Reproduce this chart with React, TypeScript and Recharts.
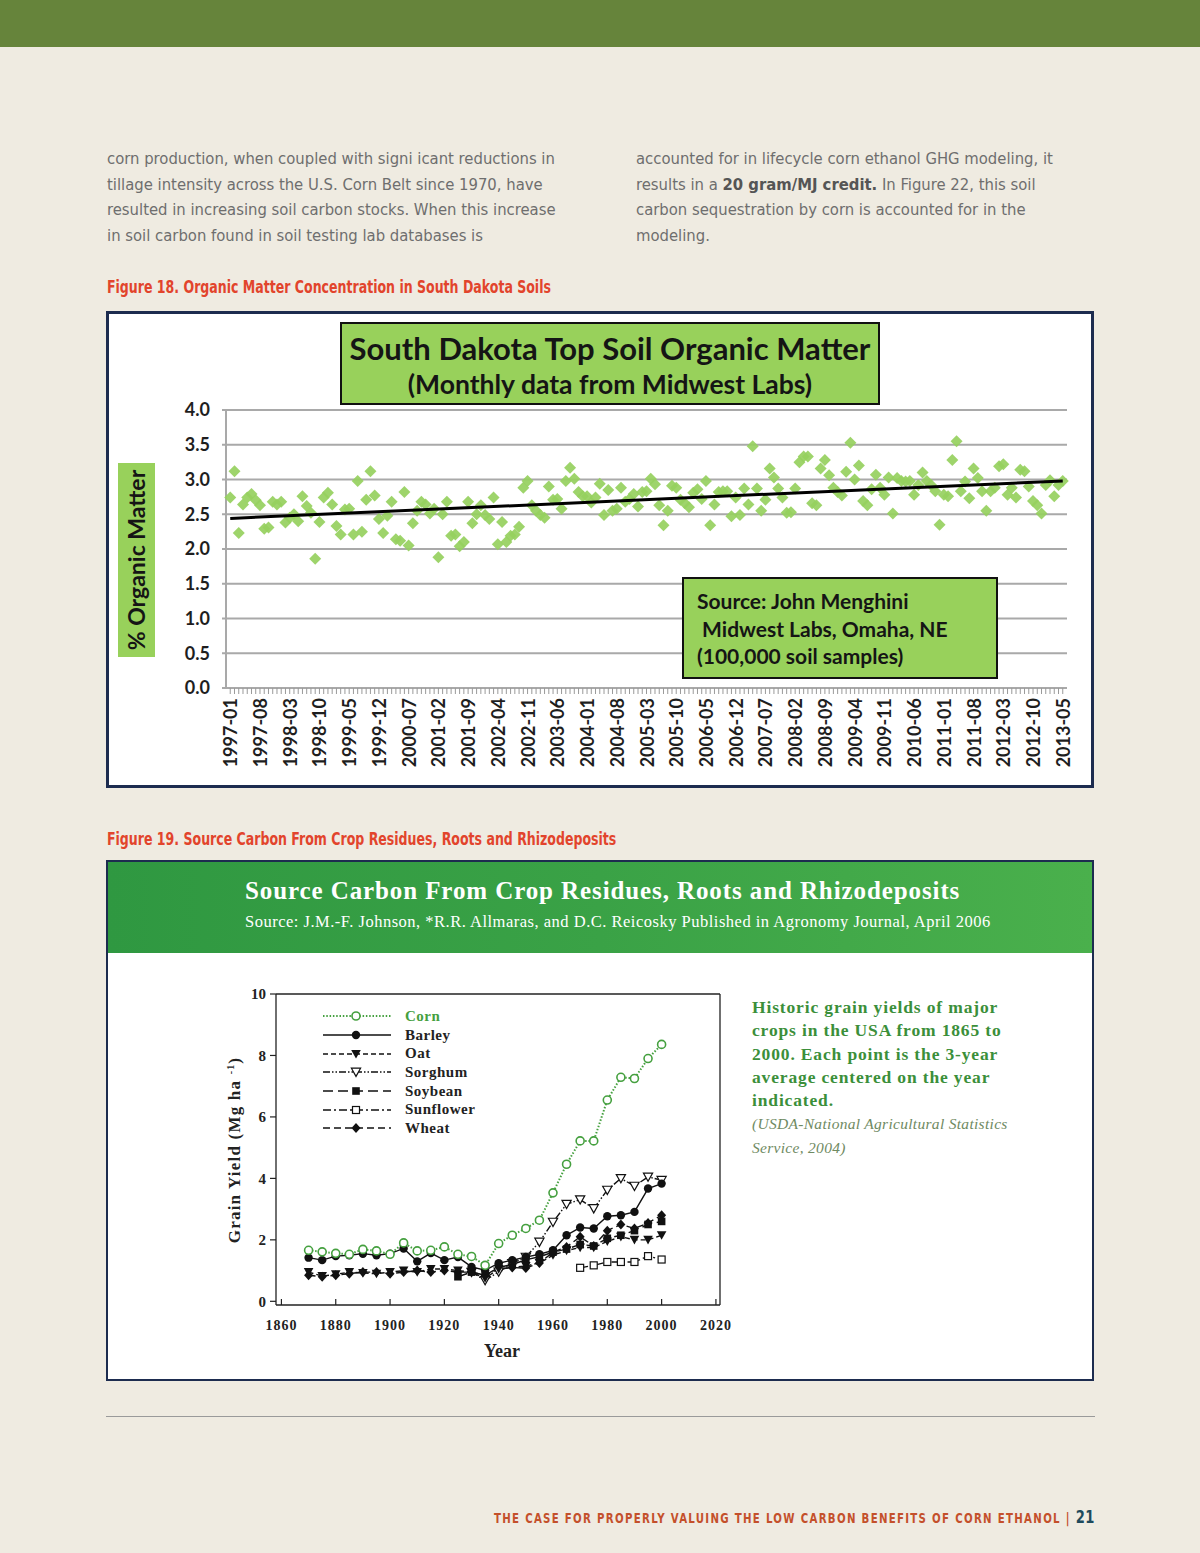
import {
  CartesianGrid,
  ComposedChart,
  Line,
  LineChart,
  ReferenceLine,
  Scatter,
  XAxis,
  YAxis,
} from "recharts";

// Figura 18: datos mensuales de materia orgánica (1997-01 .. 2013-05)
const monthTicks = [
  "1997-01", "1997-08", "1998-03", "1998-10", "1999-05", "1999-12", "2000-07",
  "2001-02", "2001-09", "2002-04", "2002-11", "2003-06", "2004-01", "2004-08",
  "2005-03", "2005-10", "2006-05", "2006-12", "2007-07", "2008-02", "2008-09",
  "2009-04", "2009-11", "2010-06", "2011-01", "2011-08", "2012-03", "2012-10",
  "2013-05",
];

const organicMatter = [
  2.74, 3.12, 2.23, 2.64, 2.74, 2.79, 2.7, 2.63, 2.29, 2.31,
  2.68, 2.64, 2.68, 2.38, 2.45, 2.5, 2.4, 2.76, 2.62, 2.52,
  1.86, 2.39, 2.74, 2.81, 2.64, 2.33, 2.21, 2.57, 2.58, 2.21,
  2.98, 2.25, 2.71, 3.12, 2.77, 2.43, 2.23, 2.48, 2.68, 2.14,
  2.12, 2.82, 2.05, 2.37, 2.55, 2.68, 2.64, 2.51, 2.58, 1.88,
  2.5, 2.68, 2.19, 2.21, 2.04, 2.1, 2.68, 2.37, 2.5, 2.63,
  2.49, 2.43, 2.74, 2.07, 2.39, 2.1, 2.19, 2.21, 2.32, 2.88,
  2.98, 2.63, 2.55, 2.49, 2.45, 2.9, 2.71, 2.72, 2.58, 2.98,
  3.17, 3.01, 2.82, 2.76, 2.76, 2.67, 2.74, 2.94, 2.49, 2.85,
  2.55, 2.58, 2.88, 2.68, 2.72, 2.79, 2.61, 2.82, 2.83, 3.01,
  2.93, 2.63, 2.34, 2.55, 2.91, 2.88, 2.71, 2.66, 2.6, 2.81,
  2.86, 2.72, 2.98, 2.34, 2.64, 2.82, 2.83, 2.83, 2.47, 2.74,
  2.49, 2.87, 2.64, 3.48, 2.87, 2.55, 2.71, 3.16, 3.03, 2.87,
  2.74, 2.52, 2.53, 2.87, 3.25, 3.33, 3.33, 2.66, 2.63, 3.16,
  3.28, 3.06, 2.88, 2.82, 2.77, 3.11, 3.53, 3.0, 3.2, 2.69,
  2.63, 2.86, 3.07, 2.88, 2.78, 3.03, 2.51, 3.02, 2.98, 2.97,
  2.98, 2.78, 2.92, 3.1, 2.98, 2.92, 2.83, 2.35, 2.78, 2.76,
  3.28, 3.55, 2.83, 2.97, 2.73, 3.16, 3.02, 2.83, 2.55, 2.83,
  2.88, 3.19, 3.22, 2.78, 2.88, 2.74, 3.14, 3.12, 2.9, 2.69,
  2.63, 2.51, 2.92, 2.99, 2.76, 2.92, 2.98,
];

const trendMonths = [0, 196];
const trendValues = [2.44, 2.98];
const omTicks = [0, 0.5, 1, 1.5, 2, 2.5, 3, 3.5, 4];

// Figura 19: rendimiento de granos (Mg/ha), promedio de 3 años
const years = [
  1870, 1875, 1880, 1885, 1890, 1895, 1900, 1905, 1910, 1915, 1920, 1925, 1930,
  1935, 1940, 1945, 1950, 1955, 1960, 1965, 1970, 1975, 1980, 1985, 1990, 1995,
  2000,
];
const corn = [
  1.66, 1.61, 1.56, 1.53, 1.69, 1.64, 1.53, 1.9, 1.64, 1.66, 1.77, 1.53, 1.46,
  1.17, 1.88, 2.15, 2.37, 2.64, 3.53, 4.46, 5.22, 5.22, 6.55, 7.29, 7.25, 7.9,
  8.36,
];
const barley = [
  1.42, 1.34, 1.47, 1.5, 1.55, 1.5, 1.55, 1.72, 1.3, 1.57, 1.34, 1.44, 1.12,
  1.01, 1.24, 1.34, 1.44, 1.53, 1.66, 2.15, 2.4, 2.37, 2.77, 2.8, 2.91, 3.67,
  3.83,
];
const oat = [
  0.95, 0.82, 0.88, 0.95, 0.92, 0.9, 0.95, 1.0, 0.95, 1.05, 1.05, 1.0, 0.95,
  0.75, 1.05, 1.1, 1.15, 1.25, 1.5, 1.65, 1.75, 1.75, 1.95, 2.1, 2.0, 2.0, 2.15,
];
const sorghum = [
  null, null, null, null, null, null, null, null, null, null, null, null, 0.95,
  0.68, 0.96, 1.23, 1.44, 1.93, 2.58, 3.16, 3.31, 3.02, 3.62, 4.0, 3.75, 4.05,
  3.94,
];
const soybean = [
  null, null, null, null, null, null, null, null, null, null, null, 0.8, 0.95,
  0.85, 1.1, 1.2, 1.35, 1.45, 1.6, 1.7, 1.85, 1.8, 2.05, 2.15, 2.3, 2.5, 2.6,
];
const sunflower = [
  null, null, null, null, null, null, null, null, null, null, null, null, null,
  null, null, null, null, null, null, null, 1.09, 1.17, 1.28, 1.28, 1.28, 1.47,
  1.36,
];
const wheat = [
  0.85, 0.8, 0.85, 0.9, 0.95, 0.95, 0.9, 0.95, 1.0, 0.95, 1.0, 0.95, 0.95, 0.85,
  1.05, 1.1, 1.08, 1.25, 1.6, 1.77, 2.1, 1.8, 2.3, 2.5, 2.37, 2.55, 2.8,
];
const yearTicks = [1860, 1880, 1900, 1920, 1940, 1960, 1980, 2000, 2020];
const yieldTicks = [0, 2, 4, 6, 8, 10];

const cornGreen = "#45a03f";
const crops = [
  { name: "Corn", values: corn, dash: "1.5 1.8", color: cornGreen, marker: "circleOpen" },
  { name: "Barley", values: barley, dash: undefined, color: "#111", marker: "circle" },
  { name: "Oat", values: oat, dash: "5 3", color: "#111", marker: "triDown" },
  { name: "Sorghum", values: sorghum, dash: "7 2 1.5 2 1.5 2", color: "#111", marker: "triDownOpen" },
  { name: "Soybean", values: soybean, dash: "10 5", color: "#111", marker: "square" },
  { name: "Sunflower", values: sunflower, dash: "8 3 2 3", color: "#111", marker: "squareOpen" },
  { name: "Wheat", values: wheat, dash: "7 4", color: "#111", marker: "diamond" },
];

const soilPoints = organicMatter.map((v, i) => ({ m: i, v }));
const trendPoints = trendMonths.map((m, i) => ({ m, v: trendValues[i] }));
const allMonths = organicMatter.map((_, i) => i);
const yieldTable = years.map((year, i) => {
  const row: Record<string, number | null> = { year };
  crops.forEach((c) => (row[c.name] = c.values[i]));
  return row;
});

const bodyFont = '"Liberation Sans Narrow", "DejaVu Sans Condensed", sans-serif';
const chartFont = 'Lato, "Open Sans", sans-serif';
const serif = '"Liberation Serif", "DejaVu Serif", serif';

function marker(kind: string, cx: number, cy: number, color: string) {
  switch (kind) {
    case "circleOpen":
      return <circle cx={cx} cy={cy} r={4} fill="#fff" stroke={color} strokeWidth={1.6} />;
    case "circle":
      return <circle cx={cx} cy={cy} r={4.2} fill="#111" />;
    case "triDown":
      return <path d={`M${cx - 4.8},${cy - 4}L${cx + 4.8},${cy - 4}L${cx},${cy + 4.6}Z`} fill="#111" />;
    case "triDownOpen":
      return (
        <path
          d={`M${cx - 4.6},${cy - 3.8}L${cx + 4.6},${cy - 3.8}L${cx},${cy + 4.4}Z`}
          fill="#fff"
          stroke="#111"
          strokeWidth={1.2}
        />
      );
    case "square":
      return <rect x={cx - 3.8} y={cy - 3.8} width={7.6} height={7.6} fill="#111" />;
    case "squareOpen":
      return <rect x={cx - 3.5} y={cy - 3.5} width={7} height={7} fill="#fff" stroke="#111" strokeWidth={1.2} />;
    default:
      return <path d={`M${cx},${cy - 5}L${cx + 4.5},${cy}L${cx},${cy + 5}L${cx - 4.5},${cy}Z`} fill="#111" />;
  }
}

function Diamond(props: any) {
  const { cx, cy } = props;
  if (cx == null || cy == null) return <g />;
  return (
    <path
      d={`M${cx},${cy - 6}L${cx + 6},${cy}L${cx},${cy + 6}L${cx - 6},${cy}Z`}
      fill="#96d05e"
      fillOpacity={0.92}
    />
  );
}

function MonthTick(props: any) {
  const { x, y, payload } = props;
  const idx = payload.value % 7 === 0 ? payload.value / 7 : -1;
  const label = idx >= 0 ? monthTicks[idx] : undefined;
  if (!label) return <g />;
  return (
    <text
      x={x}
      y={y}
      transform={`rotate(-90 ${x} ${y})`}
      textAnchor="end"
      dominantBaseline="central"
      fontFamily={chartFont}
      fontWeight={700}
      fontSize={18}
      fill="#1e1e1e"
    >
      {label}
    </text>
  );
}

function YearTick(props: any) {
  const { x, y, payload } = props;
  return (
    <g>
      <line x1={x} x2={x} y1={y} y2={y - 6} stroke="#222" strokeWidth={1.2} />
      <text
        x={x}
        y={y + 25}
        textAnchor="middle"
        fontFamily={serif}
        fontWeight={700}
        fontSize={14}
        letterSpacing={1}
        fill="#222"
      >
        {payload.value}
      </text>
    </g>
  );
}

function Txt({ x, y, children, style }: any) {
  return (
    <div style={{ position: "absolute", left: x, top: y, whiteSpace: "nowrap", ...style }}>
      {children}
    </div>
  );
}

function SoilChart() {
  const box = {
    position: "absolute" as const,
    background: "#98d15b",
    boxSizing: "border-box" as const,
    fontFamily: chartFont,
    color: "#151515",
  };
  return (
    <div
      style={{
        position: "absolute",
        left: 106,
        top: 311,
        width: 988,
        height: 477,
        border: "3px solid #1d2c4f",
        boxSizing: "border-box",
        background: "#fff",
      }}
    >
      <div style={{ position: "absolute", left: 0, top: 0 }}>
        <ComposedChart
          width={982}
          height={471}
          margin={{ top: 96, right: 24, bottom: 15, left: 57 }}
        >
          <CartesianGrid horizontal vertical={false} stroke="#a9a9a9" strokeWidth={2} />
          <XAxis
            type="number"
            dataKey="m"
            domain={[-1, 197]}
            ticks={allMonths}
            interval={0}
            height={82}
            tickSize={6}
            tickMargin={4}
            tick={<MonthTick />}
            tickLine={{ stroke: "#9a9a9a" }}
            axisLine={{ stroke: "#a9a9a9", strokeWidth: 2 }}
          />
          <YAxis
            type="number"
            dataKey="v"
            domain={[0, 4]}
            ticks={omTicks}
            width={60}
            tickSize={4}
            tickMargin={12}
            tickFormatter={(v: number) => v.toFixed(1)}
            tick={{ fill: "#1e1e1e", fontSize: 18, fontWeight: 700, fontFamily: chartFont }}
            tickLine={{ stroke: "#a9a9a9", strokeWidth: 2 }}
            axisLine={{ stroke: "#a9a9a9", strokeWidth: 2 }}
          />
          <Scatter data={soilPoints} shape={<Diamond />} isAnimationActive={false} />
          <Scatter
            data={trendPoints}
            line={{ stroke: "#000", strokeWidth: 3 }}
            shape={() => <g />}
            isAnimationActive={false}
          />
        </ComposedChart>
      </div>
      <div
        style={{
          ...box,
          left: 231,
          top: 8,
          width: 540,
          height: 83,
          border: "2px solid #111",
          textAlign: "center",
          fontWeight: 700,
        }}
      >
        <div style={{ fontSize: 31, lineHeight: "38px", marginTop: 5 }}>
          South Dakota Top Soil Organic Matter
        </div>
        <div style={{ fontSize: 26.5, lineHeight: "34px" }}>(Monthly data from Midwest Labs)</div>
      </div>
      <div style={{ ...box, left: 9, top: 149, width: 37, height: 194 }}>
        <div
          style={{
            position: "absolute",
            left: 18,
            top: 97,
            transform: "translate(-50%, -50%) rotate(-90deg)",
            whiteSpace: "nowrap",
            fontSize: 23,
            fontWeight: 700,
          }}
        >
          % Organic Matter
        </div>
      </div>
      <div
        style={{
          ...box,
          left: 573,
          top: 263,
          width: 316,
          height: 102,
          border: "2px solid #111",
          fontWeight: 700,
          fontSize: 21,
          lineHeight: "27.5px",
          paddingTop: 8,
          paddingLeft: 13,
        }}
      >
        <div>Source: John Menghini</div>
        <div>&nbsp;Midwest Labs, Omaha, NE</div>
        <div>(100,000 soil samples)</div>
      </div>
    </div>
  );
}

function LegendSample({ crop }: { crop: (typeof crops)[number] }) {
  return (
    <svg width={70} height={12} style={{ display: "block" }}>
      <line
        x1={1}
        x2={69}
        y1={6}
        y2={6}
        stroke={crop.color}
        strokeWidth={crop.name === "Corn" ? 2 : 1.6}
        strokeDasharray={crop.dash}
      />
      {marker(crop.marker, 34, 6, crop.color)}
    </svg>
  );
}

function YieldChart() {
  return (
    <div
      style={{
        position: "absolute",
        left: 106,
        top: 860,
        width: 988,
        height: 521,
        border: "2px solid #1d2c4f",
        boxSizing: "border-box",
        background: "#fff",
      }}
    >
      <div
        style={{
          position: "absolute",
          left: 0,
          top: 0,
          width: 984,
          height: 91,
          background: "linear-gradient(90deg, #2f9841 0%, #3aa246 50%, #4ab04c 100%)",
          color: "#fff",
          fontFamily: serif,
        }}
      >
        <Txt x={137} y={15} style={{ fontSize: 25, fontWeight: 700, letterSpacing: 0.9 }}>
          Source Carbon From Crop Residues, Roots and Rhizodeposits
        </Txt>
        <Txt x={137} y={50} style={{ fontSize: 16.5, letterSpacing: 0.5 }}>
          Source: J.M.-F. Johnson, *R.R. Allmaras, and D.C. Reicosky Published in Agronomy Journal, April 2006
        </Txt>
      </div>
      <div style={{ position: "absolute", left: 92, top: 118 }}>
        <LineChart
          width={560}
          height={400}
          data={yieldTable}
          margin={{ top: 14, right: 40, bottom: 25, left: 16 }}
        >
          <XAxis
            type="number"
            dataKey="year"
            domain={[1858, 2021.5]}
            ticks={yearTicks}
            interval={0}
            allowDataOverflow
            height={50}
            tickSize={0}
            tickMargin={0}
            tickLine={false}
            tick={<YearTick />}
            axisLine={{ stroke: "#222", strokeWidth: 1.3 }}
          />
          <YAxis
            type="number"
            domain={[-0.12, 10]}
            ticks={yieldTicks}
            allowDataOverflow
            width={60}
            tickSize={6}
            tickMargin={4}
            tick={{ fill: "#222", fontSize: 15, fontWeight: 700, fontFamily: serif }}
            tickLine={{ stroke: "#222", strokeWidth: 1.2 }}
            axisLine={{ stroke: "#222", strokeWidth: 1.3 }}
          />
          <ReferenceLine y={10} stroke="#222" strokeWidth={1.3} />
          <ReferenceLine x={2021.5} stroke="#222" strokeWidth={1.3} />
          {crops
            .slice()
            .reverse()
            .map((c) => (
              <Line
                key={c.name}
                dataKey={c.name}
                stroke={c.color}
                strokeWidth={c.name === "Corn" ? 2 : 1.4}
                strokeDasharray={c.dash}
                isAnimationActive={false}
                dot={(p: any) =>
                  p.cx == null || p.cy == null || p.value == null ? (
                    <g key={`${c.name}-${p.index}`} />
                  ) : (
                    <g key={`${c.name}-${p.index}`}>{marker(c.marker, p.cx, p.cy, c.color)}</g>
                  )
                }
                activeDot={false}
              />
            ))}
        </LineChart>
      </div>
      <div
        style={{
          position: "absolute",
          left: 127,
          top: 288,
          transform: "translate(-50%, -50%) rotate(-90deg)",
          whiteSpace: "nowrap",
          fontFamily: serif,
          fontWeight: 700,
          fontSize: 17,
          letterSpacing: 1.2,
          color: "#222",
        }}
      >
        Grain Yield (Mg ha <sup style={{ fontSize: 10 }}>-1</sup>)
      </div>
      <Txt
        x={394}
        y={479}
        style={{ transform: "translateX(-50%)", fontFamily: serif, fontWeight: 700, fontSize: 18, color: "#222" }}
      >
        Year
      </Txt>
      <div
        style={{
          position: "absolute",
          left: 214,
          top: 145,
          fontFamily: serif,
          fontWeight: 700,
          fontSize: 15,
          letterSpacing: 0.5,
        }}
      >
        {crops.map((c) => (
          <div key={c.name} style={{ display: "flex", alignItems: "center", height: 18.7 }}>
            <LegendSample crop={c} />
            <span style={{ marginLeft: 13, color: c.name === "Corn" ? cornGreen : "#222" }}>{c.name}</span>
          </div>
        ))}
      </div>
      <div
        style={{
          position: "absolute",
          left: 644,
          top: 134,
          fontFamily: serif,
          fontSize: 17.5,
          lineHeight: "23.3px",
          whiteSpace: "nowrap",
          letterSpacing: 0.85,
        }}
      >
        <div style={{ color: "#3b8f3a", fontWeight: 700 }}>
          Historic grain yields of major
          <br />
          crops in the USA from 1865 to
          <br />
          2000. Each point is the 3-year
          <br />
          average centered on the year
          <br />
          indicated.
        </div>
        <div style={{ color: "#6f8a62", fontStyle: "italic", fontSize: 15.5, letterSpacing: 0.3 }}>
          (USDA-National Agricultural Statistics
          <br />
          Service, 2004)
        </div>
      </div>
    </div>
  );
}

export default function App() {
  const body = { fontFamily: bodyFont, fontSize: 16.5, color: "#6e6e6e", lineHeight: "20px" };
  const caption = {
    fontFamily: bodyFont,
    fontSize: 18,
    fontWeight: 700,
    color: "#e2442c",
    lineHeight: "20px",
    transform: "scaleX(0.775)",
    transformOrigin: "left center",
  };
  return (
    <div
      style={{
        position: "absolute",
        left: 0,
        top: 0,
        width: 1200,
        height: 1553,
        background: "#efebe1",
        overflow: "hidden",
      }}
    >
      <div style={{ position: "absolute", left: 0, top: 0, width: 1200, height: 47, background: "#66843b" }} />

      <Txt x={107} y={149} style={body}>corn production, when coupled with signi icant reductions in</Txt>
      <Txt x={107} y={175} style={body}>tillage intensity across the U.S. Corn Belt since 1970, have</Txt>
      <Txt x={107} y={200} style={body}>resulted in increasing soil carbon stocks. When this increase</Txt>
      <Txt x={107} y={226} style={body}>in soil carbon found in soil testing lab databases is</Txt>

      <Txt x={636} y={149} style={body}>accounted for in lifecycle corn ethanol GHG modeling, it</Txt>
      <Txt x={636} y={175} style={body}>
        results in a <b style={{ color: "#555" }}>20 gram/MJ credit.</b> In Figure 22, this soil
      </Txt>
      <Txt x={636} y={200} style={body}>carbon sequestration by corn is accounted for in the</Txt>
      <Txt x={636} y={226} style={body}>modeling.</Txt>

      <Txt x={107} y={277} style={caption}>Figure 18. Organic Matter Concentration in South Dakota Soils</Txt>
      <SoilChart />

      <Txt x={107} y={829} style={caption}>Figure 19. Source Carbon From Crop Residues, Roots and Rhizodeposits</Txt>
      <YieldChart />

      <div style={{ position: "absolute", left: 106, top: 1416, width: 989, height: 1, background: "#9a9a9a" }} />
      <div
        style={{
          position: "absolute",
          right: 105,
          top: 1507,
          whiteSpace: "nowrap",
          transform: "scaleX(0.81)",
          transformOrigin: "right center",
          fontFamily: bodyFont,
          fontWeight: 700,
          fontSize: 14,
          letterSpacing: 1.6,
          color: "#c4502b",
          lineHeight: "20px",
        }}
      >
        THE CASE FOR PROPERLY VALUING THE LOW CARBON BENEFITS OF CORN ETHANOL |{" "}
        <span style={{ color: "#1e4a5c", fontSize: 18, letterSpacing: 0.5 }}>21</span>
      </div>
    </div>
  );
}
